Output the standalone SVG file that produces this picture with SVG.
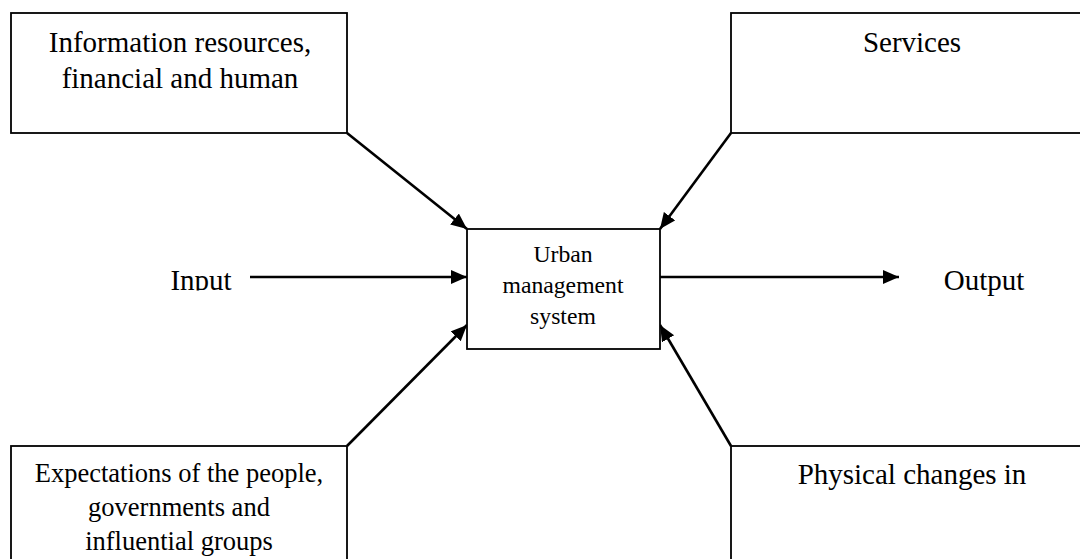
<svg xmlns="http://www.w3.org/2000/svg" width="1080" height="559" viewBox="0 0 1080 559">
  <style>
    .box { fill: #fff; stroke: #000; stroke-width: 1.8; }
    .t { font-family: "Liberation Serif", "Times New Roman", serif; fill: #000; text-anchor: middle; }
    .big { font-size: 29px; }
    .mid { font-size: 26.5px; }
    .small { font-size: 23.7px; }
    .conn { stroke: #000; stroke-width: 2.6; fill: none; marker-end: url(#arrow); }
  </style>
  <defs>
    <marker id="arrow" markerUnits="userSpaceOnUse" markerWidth="17" markerHeight="15" refX="16" refY="7" orient="auto">
      <path d="M0,0 L16,7 L0,14 z" fill="#000"/>
    </marker>
    <clipPath id="inputClip">
      <rect x="0" y="240" width="300" height="50.5"/>
    </clipPath>
  </defs>
  <rect width="1080" height="559" fill="#fff"/>

  <g id="connectors">
    <line class="conn" x1="347" y1="133" x2="467" y2="229"/>
    <line class="conn" x1="731" y1="133" x2="660" y2="229"/>
    <line class="conn" x1="347" y1="446" x2="467" y2="325"/>
    <line class="conn" x1="731" y1="446" x2="660" y2="325"/>
    <line class="conn" x1="250" y1="277" x2="467" y2="277"/>
    <line class="conn" x1="660" y1="277" x2="899" y2="277"/>
  </g>

  <g id="node-resources">
    <rect class="box" x="11" y="13" width="336" height="120"/>
    <text class="t big" x="180" y="52">Information resources,</text>
    <text class="t big" x="180" y="88">financial and human</text>
  </g>

  <g id="node-services">
    <rect class="box" x="731" y="13" width="360" height="120"/>
    <text class="t big" x="912" y="52">Services</text>
  </g>

  <g id="node-expectations">
    <rect class="box" x="11" y="446" width="336" height="130"/>
    <text class="t mid" x="179" y="482">Expectations of the people,</text>
    <text class="t mid" x="179" y="516">governments and</text>
    <text class="t mid" x="179" y="550">influential groups</text>
  </g>

  <g id="node-physical">
    <rect class="box" x="731" y="446" width="360" height="130"/>
    <text class="t big" x="912" y="484">Physical changes in</text>
  </g>

  <g id="node-system">
    <rect class="box" x="467" y="229" width="193" height="120"/>
    <text class="t small" x="563" y="262">Urban</text>
    <text class="t small" x="563" y="293">management</text>
    <text class="t small" x="563" y="324">system</text>
  </g>

  <g id="node-input">
    <text class="t big" x="201" y="289.5" clip-path="url(#inputClip)">Input</text>
  </g>

  <g id="node-output">
    <text class="t big" x="984" y="290">Output</text>
  </g>
</svg>
